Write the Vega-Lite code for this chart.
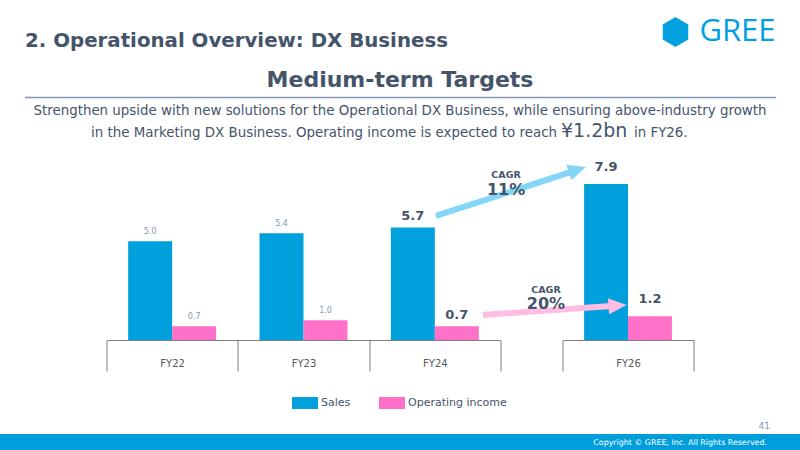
{
  "$schema": "https://vega.github.io/schema/vega-lite/v6.json",
  "background": "white",
  "padding": {"top": 16, "left": 0, "right": 0, "bottom": 0},
  "title": {"text": "2. Operational Overview: DX Business", "anchor": "start", "frame": "bounds", "dx": 25, "offset": -35, "fontSize": 19.8, "font": "DejaVu Sans", "fontWeight": "bold", "color": "#44546A"},
  "datasets": {
    "bars": [
      {"year": "FY22", "series": "Sales", "value": 5.0},
      {"year": "FY22", "series": "Operating income", "value": 0.7},
      {"year": "FY23", "series": "Sales", "value": 5.4},
      {"year": "FY23", "series": "Operating income", "value": 1.0},
      {"year": "FY24", "series": "Sales", "value": 5.7},
      {"year": "FY24", "series": "Operating income", "value": 0.7},
      {"year": "FY26", "series": "Sales", "value": 7.9},
      {"year": "FY26", "series": "Operating income", "value": 1.2}
    ],
    "arrows": [
      {"series": "Sales", "part": "tail", "u": -0.966, "v": 6.28},
      {"series": "Sales", "part": "neck", "u": 0.065, "v": 8.51},
      {"series": "Sales", "part": "head", "u": 0.114, "v": 8.62},
      {"series": "Operating income", "part": "tail", "u": -0.607, "v": 1.27},
      {"series": "Operating income", "part": "neck", "u": 0.37, "v": 1.72},
      {"series": "Operating income", "part": "head", "u": 0.42, "v": 1.74}
    ],
    "cagr": [
      {"series": "Sales", "text": "CAGR", "u": -0.431, "v": 8.35},
      {"series": "Sales", "text": "11%", "u": -0.431, "v": 7.58},
      {"series": "Operating income", "text": "CAGR", "u": -0.126, "v": 2.55},
      {"series": "Operating income", "text": "20%", "u": -0.126, "v": 1.81}
    ],
    "subtitle": [
      {"line": "1", "part": "full", "text": "Strengthen upside with new solutions for the Operational DX Business, while ensuring above-industry growth"},
      {"line": "2", "part": "lead", "text": "in the Marketing DX Business. Operating income is expected to reach"},
      {"line": "2", "part": "figure", "text": "¥1.2bn"},
      {"line": "2", "part": "tail", "text": "in FY26."}
    ],
    "brand": [{"name": "GREE"}],
    "footer": [{"text": "Copyright © GREE, Inc. All Rights Reserved."}]
  },
  "vconcat": [
    {
      "width": 751,
      "height": 49,
      "title": {"text": "Medium-term Targets", "anchor": "middle", "frame": "group", "offset": -76, "fontSize": 22, "font": "DejaVu Sans", "fontWeight": "bold", "color": "#44546A"},
      "layer": [
        {
          "data": {"name": "subtitle"},
          "transform": [{"filter": "datum.part === 'full'"}],
          "mark": {"type": "text", "font": "DejaVu Sans", "fontSize": 13.4, "color": "#44546A", "baseline": "middle"},
          "encoding": {
            "x": {"datum": "middle", "type": "nominal", "scale": {"type": "point", "domain": ["left", "middle", "right"], "padding": 0}, "axis": {"orient": "top", "title": null, "labels": false, "ticks": false, "grid": false, "domainColor": "#8497B0", "domainWidth": 1.5}},
            "y": {"field": "line", "type": "nominal", "scale": {"type": "point", "domain": ["1", "2"], "padding": 0.667}, "axis": null},
            "text": {"field": "text"}
          }
        },
        {
          "data": {"name": "subtitle"},
          "transform": [{"filter": "datum.part === 'lead'"}],
          "mark": {"type": "text", "font": "DejaVu Sans", "fontSize": 13.4, "color": "#44546A", "baseline": "alphabetic", "align": "right", "dx": 157, "dy": 5},
          "encoding": {
            "x": {"datum": "middle", "type": "nominal"},
            "y": {"field": "line", "type": "nominal"},
            "text": {"field": "text"}
          }
        },
        {
          "data": {"name": "subtitle"},
          "transform": [{"filter": "datum.part === 'figure'"}],
          "mark": {"type": "text", "font": "DejaVu Sans", "fontSize": 19, "color": "#44546A", "baseline": "alphabetic", "align": "left", "dx": 161, "dy": 5},
          "encoding": {
            "x": {"datum": "middle", "type": "nominal"},
            "y": {"field": "line", "type": "nominal"},
            "text": {"field": "text"}
          }
        },
        {
          "data": {"name": "subtitle"},
          "transform": [{"filter": "datum.part === 'tail'"}],
          "mark": {"type": "text", "font": "DejaVu Sans", "fontSize": 13.4, "color": "#44546A", "baseline": "alphabetic", "align": "left", "dx": 234, "dy": 5},
          "encoding": {
            "x": {"datum": "middle", "type": "nominal"},
            "y": {"field": "line", "type": "nominal"},
            "text": {"field": "text"}
          }
        },
        {
          "data": {"name": "brand"},
          "mark": {"type": "text", "font": "Open Sans", "fontSize": 31, "color": "#00A0E1", "align": "right", "baseline": "middle", "dy": -79},
          "encoding": {
            "x": {"datum": "right", "type": "nominal"},
            "y": {"datum": "1", "type": "nominal"},
            "text": {"field": "name"}
          }
        },
        {
          "data": {"name": "brand"},
          "mark": {"type": "point", "filled": true, "opacity": 1, "shape": "M-6.667,-6.267L-5.817,-5.767L-5.817,-4.767L-6.667,-4.267L-7.517,-4.767L-7.517,-5.767Z", "size": 900, "color": "#00A0E1"},
          "encoding": {
            "x": {"datum": "right", "type": "nominal"},
            "y": {"datum": "1", "type": "nominal"}
          }
        }
      ]
    },
    {
      "width": 587,
      "height": 194,
      "layer": [
        {
          "data": {"name": "bars"},
          "transform": [{"filter": "datum.year !== 'FY26'"}],
          "layer": [
            {
              "mark": {"type": "bar"},
              "encoding": {
                "x": {"field": "year", "type": "nominal", "scale": {"domain": ["FY22", "FY23", "FY24"], "range": [0, 394], "paddingInner": 0, "paddingOuter": 0}, "axis": {"orient": "bottom", "title": null, "tickBand": "extent", "tickSize": 31, "tickColor": "#7F7F7F", "domainColor": "#7F7F7F", "labelAngle": 0, "labelBaseline": "middle", "labelPadding": -8, "labelFont": "DejaVu Sans", "labelFontSize": 10, "labelColor": "#595959", "grid": false}},
                "xOffset": {"field": "series", "type": "nominal", "scale": {"domain": ["Sales", "Operating income"], "paddingInner": 0, "paddingOuter": 0.4924}},
                "y": {"field": "value", "type": "quantitative", "scale": {"domain": [0, 9.823], "nice": false, "zero": true}, "axis": {"title": "Billions of yen", "titleAngle": 0, "titleAlign": "left", "titleBaseline": "middle", "titleX": -51.5, "titleY": 38, "labels": false, "ticks": false, "domain": false, "grid": false, "titleFont": "DejaVu Sans", "titleFontSize": 10, "titleFontWeight": "normal", "titleColor": "#44546A"}},
                "color": {"field": "series", "type": "nominal", "scale": {"domain": ["Sales", "Operating income"], "range": ["#00A0DC", "#FF70C8"]}, "legend": {"orient": "none", "legendX": 292, "legendY": 293, "direction": "horizontal", "title": null, "symbolType": "M-1,-0.46H1V0.46H-1Z", "symbolSize": 676, "symbolStrokeWidth": 0, "symbolOpacity": 1, "labelFont": "DejaVu Sans", "labelFontSize": 11, "labelColor": "#44546A", "labelOffset": 3, "columnPadding": 28, "padding": 0}}
              }
            },
            {
              "transform": [{"filter": "datum.year !== 'FY24'"}],
              "mark": {"type": "text", "font": "DejaVu Sans", "fontSize": 8, "color": "#8497B0", "baseline": "middle", "dy": -9.5},
              "encoding": {
                "x": {"field": "year", "type": "nominal"},
                "xOffset": {"field": "series", "type": "nominal"},
                "y": {"field": "value", "type": "quantitative", "axis": null},
                "text": {"field": "value", "type": "quantitative", "format": ".1f"}
              }
            },
            {
              "transform": [{"filter": "datum.year === 'FY24'"}],
              "mark": {"type": "text", "font": "DejaVu Sans", "fontSize": 13, "fontWeight": "bold", "color": "#44546A", "baseline": "middle", "dy": -11.5},
              "encoding": {
                "x": {"field": "year", "type": "nominal"},
                "xOffset": {"field": "series", "type": "nominal"},
                "y": {"field": "value", "type": "quantitative", "axis": null},
                "text": {"field": "value", "type": "quantitative", "format": ".1f"}
              }
            }
          ]
        },
        {
          "data": {"name": "bars"},
          "transform": [{"filter": "datum.year === 'FY26'"}],
          "layer": [
            {
              "mark": {"type": "bar"},
              "encoding": {
                "x": {"field": "year", "type": "nominal", "scale": {"domain": ["FY26"], "range": [456, 587], "paddingInner": 0, "paddingOuter": 0}, "axis": {"orient": "bottom", "title": null, "tickBand": "extent", "tickSize": 31, "tickColor": "#7F7F7F", "domainColor": "#7F7F7F", "labelAngle": 0, "labelBaseline": "middle", "labelPadding": -8, "labelFont": "DejaVu Sans", "labelFontSize": 10, "labelColor": "#595959", "grid": false}},
                "xOffset": {"field": "series", "type": "nominal", "scale": {"domain": ["Sales", "Operating income"], "paddingInner": 0, "paddingOuter": 0.4924}},
                "y": {"field": "value", "type": "quantitative", "axis": null},
                "color": {"field": "series", "type": "nominal"}
              }
            },
            {
              "mark": {"type": "text", "font": "DejaVu Sans", "fontSize": 13, "fontWeight": "bold", "color": "#44546A", "baseline": "middle", "dy": -17},
              "encoding": {
                "x": {"field": "year", "type": "nominal"},
                "xOffset": {"field": "series", "type": "nominal"},
                "y": {"field": "value", "type": "quantitative", "axis": null},
                "text": {"field": "value", "type": "quantitative", "format": ".1f"}
              }
            }
          ]
        },
        {
          "layer": [
            {
              "data": {"name": "arrows"},
              "transform": [{"filter": "datum.part !== 'head'"}],
              "mark": {"type": "line", "strokeWidth": 6, "strokeCap": "butt"},
              "encoding": {
                "x": {"field": "u", "type": "quantitative", "scale": {"domain": [0, 1], "range": [456, 587], "nice": false, "zero": false}, "axis": null},
                "y": {"field": "v", "type": "quantitative", "axis": null},
                "detail": {"field": "series", "type": "nominal"},
                "stroke": {"condition": {"test": "datum.series === 'Sales'", "value": "#84D6F8"}, "value": "#FFBDE4"}
              }
            },
            {
              "data": {"name": "arrows"},
              "transform": [{"filter": "datum.part === 'head'"}],
              "mark": {"type": "point", "filled": true, "opacity": 1, "shape": "M-1,-0.9L1,0L-1,0.9Z", "size": 324},
              "encoding": {
                "x": {"field": "u", "type": "quantitative", "axis": null},
                "y": {"field": "v", "type": "quantitative", "axis": null},
                "angle": {"condition": {"test": "datum.series === 'Sales'", "value": -18}, "value": -4},
                "fill": {"condition": {"test": "datum.series === 'Sales'", "value": "#84D6F8"}, "value": "#FFBDE4"}
              }
            },
            {
              "data": {"name": "cagr"},
              "mark": {"type": "text", "font": "DejaVu Sans", "fontWeight": "bold", "color": "#44546A", "baseline": "middle"},
              "encoding": {
                "x": {"field": "u", "type": "quantitative", "axis": null},
                "y": {"field": "v", "type": "quantitative", "axis": null},
                "text": {"field": "text", "type": "nominal"},
                "size": {"condition": {"test": "datum.text === 'CAGR'", "value": 9.5}, "value": 16}
              }
            }
          ]
        }
      ],
      "resolve": {"scale": {"x": "independent", "xOffset": "independent"}, "axis": {"x": "independent"}}
    },
    {
      "width": 800,
      "height": 94,
      "data": {"values": [{"blank": ""}]},
      "mark": {"type": "text"},
      "encoding": {"text": {"field": "blank", "type": "nominal"}}
    },
    {
      "width": 800,
      "height": 17,
      "view": {"fill": "#009FDB", "stroke": null},
      "title": {"text": "41", "anchor": "end", "frame": "group", "offset": 3.5, "dx": -30, "fontSize": 9, "fontWeight": "normal", "font": "DejaVu Sans", "color": "#8497B0"},
      "data": {"name": "footer"},
      "mark": {"type": "text", "align": "right", "baseline": "middle", "font": "DejaVu Sans", "fontSize": 7.9, "color": "white", "dx": -33},
      "encoding": {
        "x": {"datum": "right", "type": "nominal", "scale": {"type": "point", "domain": ["left", "right"], "padding": 0}, "axis": null},
        "text": {"field": "text", "type": "nominal"}
      }
    }
  ],
  "spacing": 0,
  "bounds": "flush",
  "center": true,
  "resolve": {"scale": {"color": "shared"}, "legend": {"color": "shared"}},
  "config": {"view": {"stroke": null}, "font": "DejaVu Sans"}
}
